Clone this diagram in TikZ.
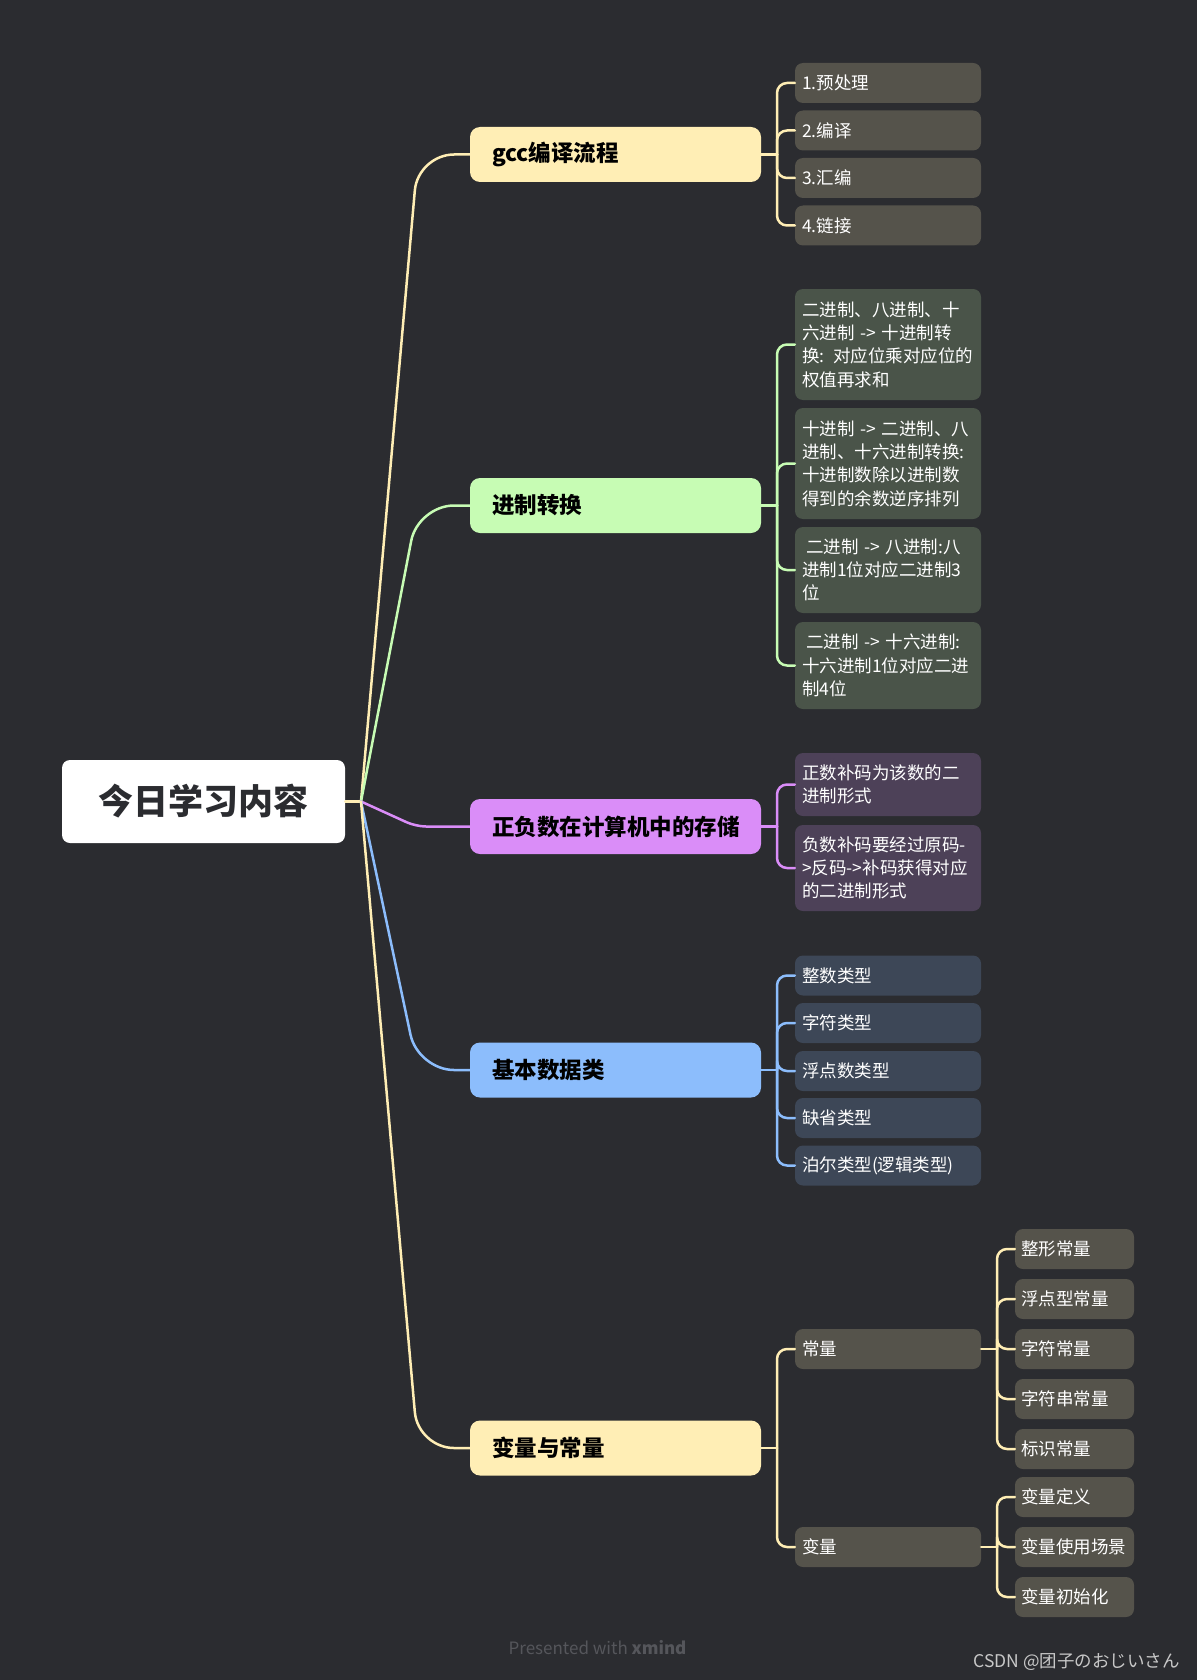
\documentclass[tikz,border=0pt]{standalone}
\usepackage{fontspec}
\setmainfont{Noto Sans CJK SC}
\definecolor{bg}{HTML}{2B2C30}
\definecolor{cY}{HTML}{FFEEB5}
\definecolor{cG}{HTML}{C7FCB4}
\definecolor{cP}{HTML}{DA8DF8}
\definecolor{cB}{HTML}{8CBDFC}
\definecolor{lY}{HTML}{55534B}
\definecolor{lG}{HTML}{4A5449}
\definecolor{lP}{HTML}{4D4158}
\definecolor{lB}{HTML}{3D4757}
\definecolor{roottext}{HTML}{2B2C30}
\definecolor{dimtext}{HTML}{55565B}
\definecolor{marktext}{HTML}{C8C8C8}
\tikzset{
  leafbase/.style={rounded corners=8pt, inner ysep=0pt, inner xsep=7pt, align=left,
    text width=172pt, font=\fontsize{17.5}{23.3}\selectfont, text=white},
  leafY/.style={leafbase, fill=lY},
  leafG/.style={leafbase, fill=lG},
  leafP/.style={leafbase, fill=lP},
  leafB/.style={leafbase, fill=lB},
  gleaf/.style={rounded corners=8pt, inner ysep=0pt, inner xsep=6pt, align=left,
    text width=107pt, minimum height=40pt, font=\fontsize{17.5}{23.3}\selectfont, text=white, fill=lY},
  mainbox/.style={rounded corners=10pt, inner ysep=0pt, inner xsep=22pt, align=left,
    text width=247pt, minimum height=55pt, font=\fontsize{22.5}{26}\selectfont\bfseries, text=black},
  conn/.style={line width=2.5pt, line cap=round, line join=round},
}
\begin{document}
\begin{tikzpicture}[x=1pt, y=-1pt]
\fill[bg] (0,0) rectangle (1197,1680);
\useasboundingbox (0,0) rectangle (1197,1680);

% root
\node[fill=white, rounded corners=8pt, minimum width=283pt, minimum height=83pt, inner sep=0pt,
  text=roottext, font=\fontsize{35}{40}\selectfont\bfseries] (root) at (203.5,801.5) {今日学习内容};
\coordinate (hub) at (361,801.5);

% main nodes
\node[mainbox, fill=cY] (m1) at (615.5,154.5) {gcc编译流程};
\node[mainbox, fill=cG] (m2) at (615.5,505.5) {进制转换};
\node[mainbox, fill=cP] (m3) at (615.5,826.5) {正负数在计算机中的存储};
\node[mainbox, fill=cB] (m4) at (615.5,1070) {基本数据类};
\node[mainbox, fill=cY] (m5) at (615.5,1448) {变量与常量};

% gcc leaves
\node[leafY, minimum height=40pt] (a1) at (888,83) {1.预处理};
\node[leafY, minimum height=40pt] (a2) at (888,130.5) {2.编译};
\node[leafY, minimum height=40pt] (a3) at (888,178) {3.汇编};
\node[leafY, minimum height=40pt] (a4) at (888,225.5) {4.链接};

% 进制 leaves
\node[leafG, minimum height=111pt] (b1) at (888,344.5) {二进制、八进制、十\\六进制 -> 十进制转\\换: 对应位乘对应位的\\权值再求和};
\node[leafG, minimum height=111pt] (b2) at (888,463.5) {十进制 -> 二进制、八\\进制、十六进制转换:\\十进制数除以进制数\\得到的余数逆序排列};
\node[leafG, minimum height=86pt] (b3) at (888,570) {\hspace*{4pt}二进制 -> 八进制:八\\进制1位对应二进制3\\位};
\node[leafG, minimum height=87pt] (b4) at (888,665.5) {\hspace*{4pt}二进制 -> 十六进制:\\十六进制1位对应二进\\制4位};

% 正负 leaves
\node[leafP, minimum height=63pt] (p1) at (888,784.5) {正数补码为该数的二\\进制形式};
\node[leafP, minimum height=86pt] (p2) at (888,868) {负数补码要经过原码-\\>反码->补码获得对应\\的二进制形式};

% 基本 leaves
\node[leafB, minimum height=40pt] (d1) at (888,975.5) {整数类型};
\node[leafB, minimum height=40pt] (d2) at (888,1023) {字符类型};
\node[leafB, minimum height=40pt] (d3) at (888,1071) {浮点数类型};
\node[leafB, minimum height=40pt] (d4) at (888,1118) {缺省类型};
\node[leafB, minimum height=40pt] (d5) at (888,1165.5) {泊尔类型(逻辑类型)};

% 变量与常量
\node[leafY, minimum height=40pt] (e1) at (888,1349) {常量};
\node[leafY, minimum height=40pt] (e2) at (888,1547) {变量};
\node[gleaf] (f1) at (1074.5,1249) {整形常量};
\node[gleaf] (f2) at (1074.5,1299) {浮点型常量};
\node[gleaf] (f3) at (1074.5,1349) {字符常量};
\node[gleaf] (f4) at (1074.5,1399) {字符串常量};
\node[gleaf] (f5) at (1074.5,1449) {标识常量};
\node[gleaf] (g1) at (1074.5,1497) {变量定义};
\node[gleaf] (g2) at (1074.5,1547) {变量使用场景};
\node[gleaf] (g3) at (1074.5,1597) {变量初始化};

% root connectors
\draw[conn, cY] (root.east) -- (hub);
\draw[conn, cY, rounded corners=36pt] (hub) -- (418,154.5) -- (m1.west);
\draw[conn, cG, rounded corners=36pt] (hub) -- (418,505.5) -- (m2.west);
\draw[conn, cP, rounded corners=10pt] (hub) -- (416,826.5) -- (m3.west);
\draw[conn, cB, rounded corners=36pt] (hub) -- (418,1070) -- (m4.west);
\draw[conn, cY, rounded corners=36pt] (hub) -- (418,1448) -- (m5.west);

% children connectors
\coordinate (j1) at (777,154.5);
\coordinate (j2) at (777,505.5);
\coordinate (j3) at (777,826.5);
\coordinate (j4) at (777,1070);
\coordinate (j5) at (777,1448);
\coordinate (j6) at (997,1349);
\coordinate (j7) at (997,1547);
\draw[conn, cY] (m1.east) -- (j1);
\foreach \c in {a1,a2,a3,a4} \draw[conn, cY, rounded corners=10pt] (j1) |- (\c.west);
\draw[conn, cG] (m2.east) -- (j2);
\foreach \c in {b1,b2,b3,b4} \draw[conn, cG, rounded corners=10pt] (j2) |- (\c.west);
\draw[conn, cP] (m3.east) -- (j3);
\foreach \c in {p1,p2} \draw[conn, cP, rounded corners=10pt] (j3) |- (\c.west);
\draw[conn, cB] (m4.east) -- (j4);
\foreach \c in {d1,d2,d3,d4,d5} \draw[conn, cB, rounded corners=10pt] (j4) |- (\c.west);
\draw[conn, cY] (m5.east) -- (j5);
\foreach \c in {e1,e2} \draw[conn, cY, rounded corners=10pt] (j5) |- (\c.west);
\draw[conn, cY] (e1.east) -- (j6);
\foreach \c in {f1,f2,f3,f4,f5} \draw[conn, cY, rounded corners=10pt] (j6) |- (\c.west);
\draw[conn, cY] (e2.east) -- (j7);
\foreach \c in {g1,g2,g3} \draw[conn, cY, rounded corners=10pt] (j7) |- (\c.west);

% footer texts
\node[text=dimtext, font=\fontsize{17}{20}\selectfont, inner sep=0pt] (pres) at (597.5,1648) {Presented with \textbf{xmind}};
\node[text=marktext, font=\fontsize{17.5}{20}\selectfont, inner sep=0pt, anchor=east] (mark) at (1180,1662) {CSDN @团子のおじいさん};
\end{tikzpicture}
\end{document}
